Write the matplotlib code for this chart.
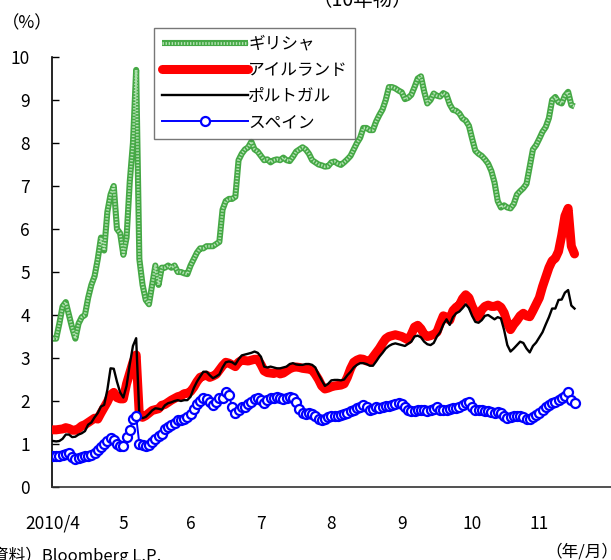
import matplotlib
matplotlib.use("Agg")
import matplotlib.pyplot as plt
from matplotlib.lines import Line2D
import pandas as pd

plt.rcParams['font.family'] = ['Noto Sans CJK JP', 'DejaVu Sans']

# 10年物国債スプレッド（対ドイツ、%）、営業日ベース 2010/4/1〜
dates = pd.bdate_range('2010-04-01', periods=164)

greece = [
    3.45, 3.45, 3.8, 4.2, 4.3, 4.0, 3.7, 3.45, 3.8, 3.95,
    4.0, 4.4, 4.7, 4.9, 5.3, 5.8, 5.5, 6.4, 6.8, 7.0,
    6.0, 5.9, 5.4, 5.8, 7.1, 8.0, 9.7, 5.3, 4.7, 4.35,
    4.25, 4.7, 5.15, 4.7, 5.1, 5.1, 5.15, 5.1, 5.15, 5.0,
    5.0, 4.97, 4.95, 5.15, 5.3, 5.45, 5.55, 5.55, 5.6, 5.6,
    5.6, 5.65, 5.7, 6.45, 6.65, 6.7, 6.7, 6.75, 7.6, 7.75,
    7.85, 7.9, 8.03, 7.85, 7.8, 7.7, 7.6, 7.62, 7.55, 7.6,
    7.62, 7.6, 7.66, 7.6, 7.58, 7.68, 7.8, 7.85, 7.9, 7.85,
    7.75, 7.6, 7.55, 7.5, 7.48, 7.45, 7.46, 7.55, 7.57, 7.52,
    7.49, 7.55, 7.62, 7.7, 7.85, 8.0, 8.12, 8.35, 8.35, 8.3,
    8.3, 8.5, 8.65, 8.78, 9.0, 9.3, 9.3, 9.27, 9.22, 9.18,
    9.02, 9.05, 9.12, 9.3, 9.5, 9.55, 9.2, 8.92, 9.0, 9.15,
    9.1, 9.08, 9.16, 9.12, 8.9, 8.77, 8.75, 8.69, 8.57, 8.52,
    8.4, 8.1, 7.82, 7.75, 7.7, 7.62, 7.52, 7.35, 7.08, 6.65,
    6.5, 6.55, 6.5, 6.48, 6.58, 6.8, 6.88, 6.95, 7.05, 7.45,
    7.85, 7.95, 8.1, 8.26, 8.37, 8.58, 9.0, 9.07, 8.95, 8.92,
    9.1, 9.19, 8.88, 8.85,
]

ireland = [
    1.33, 1.33, 1.34, 1.35, 1.38, 1.36, 1.32, 1.32, 1.36, 1.42,
    1.45, 1.5, 1.55, 1.6, 1.58, 1.72, 1.85, 1.98, 2.14, 2.2,
    2.08, 2.05, 2.05, 2.4, 2.65, 2.9, 3.07, 1.65, 1.62, 1.66,
    1.72, 1.78, 1.8, 1.82, 1.9, 1.92, 1.97, 2.02, 2.06, 2.1,
    2.12, 2.17, 2.18, 2.22, 2.32, 2.45, 2.55, 2.58, 2.6, 2.55,
    2.58, 2.62, 2.72, 2.82, 2.9, 2.88, 2.84, 2.8, 2.9, 2.95,
    2.94, 2.93, 2.95, 2.97, 2.97, 2.85, 2.7, 2.66, 2.65, 2.64,
    2.67, 2.63, 2.65, 2.7, 2.75, 2.78, 2.79, 2.78, 2.76, 2.75,
    2.74, 2.72, 2.62, 2.5, 2.35, 2.28, 2.3, 2.33, 2.35, 2.36,
    2.37, 2.4, 2.55, 2.75, 2.9, 2.95, 2.98, 2.97, 2.93, 2.92,
    3.02, 3.12, 3.22, 3.34, 3.45, 3.5, 3.52, 3.54, 3.52, 3.5,
    3.46, 3.42, 3.55, 3.72, 3.76, 3.68, 3.55, 3.5, 3.52, 3.55,
    3.6, 3.8, 3.98, 3.95, 3.88, 4.1, 4.18, 4.23, 4.38, 4.47,
    4.4, 4.2, 4.05, 3.95, 4.12, 4.2, 4.23, 4.2, 4.2, 4.23,
    4.18, 4.05, 3.82, 3.66, 3.78, 3.87, 3.98, 4.04, 3.98, 3.96,
    4.1, 4.25, 4.4, 4.66, 4.88, 5.1, 5.26, 5.32, 5.48, 5.85,
    6.3, 6.48, 5.6, 5.42,
]

portugal = [
    1.07, 1.06, 1.07, 1.12, 1.22, 1.22, 1.16, 1.17, 1.22, 1.25,
    1.3, 1.45, 1.5, 1.62, 1.72, 1.87, 1.91, 2.26, 2.76, 2.75,
    2.45, 2.2, 2.08, 2.35, 2.85, 3.28, 3.46, 1.65, 1.6, 1.63,
    1.7, 1.78, 1.83, 1.82, 1.8, 1.9, 1.95, 1.97, 2.0, 2.02,
    2.0, 2.02, 2.02, 2.1, 2.3, 2.45, 2.57, 2.68, 2.68, 2.6,
    2.53, 2.57, 2.62, 2.78, 2.9, 2.92, 2.9, 2.85, 2.97, 3.06,
    3.08, 3.1, 3.12, 3.15, 3.12, 3.03, 2.8, 2.78, 2.8, 2.78,
    2.76, 2.76, 2.78, 2.8, 2.86, 2.88, 2.85, 2.84, 2.84, 2.86,
    2.86, 2.84, 2.78, 2.62, 2.48, 2.35, 2.4, 2.48, 2.49, 2.49,
    2.48, 2.5, 2.6, 2.68, 2.78, 2.84, 2.88, 2.88, 2.86, 2.82,
    2.82, 2.92, 3.03, 3.12, 3.22, 3.28, 3.32, 3.34, 3.32, 3.3,
    3.28, 3.33, 3.38, 3.5, 3.52, 3.48, 3.38, 3.32, 3.3, 3.35,
    3.5, 3.6, 3.78, 3.9, 3.77, 3.95, 4.04, 4.08, 4.16, 4.25,
    4.16, 3.98, 3.84, 3.82, 3.88, 3.98, 4.0, 3.95, 3.9, 3.95,
    3.92, 3.65, 3.3, 3.15, 3.22, 3.3, 3.38, 3.35, 3.22, 3.13,
    3.28, 3.36, 3.48, 3.6, 3.78, 3.95, 4.15, 4.15, 4.35, 4.36,
    4.52, 4.58, 4.22, 4.15,
]

spain = [
    0.71, 0.72, 0.71, 0.74, 0.77, 0.78, 0.7, 0.64, 0.68, 0.7,
    0.71, 0.73, 0.75, 0.79, 0.86, 0.92, 1.0, 1.08, 1.13, 1.1,
    1.0, 0.96, 0.95, 1.17, 1.32, 1.58, 1.64, 1.0, 0.97, 0.96,
    0.98, 1.05, 1.12, 1.18, 1.24, 1.35, 1.4, 1.44, 1.5, 1.55,
    1.56, 1.58, 1.62, 1.7, 1.82, 1.92, 2.0, 2.08, 2.05, 1.98,
    1.9, 1.98, 2.06, 2.08, 2.2, 2.14, 1.86, 1.72, 1.8, 1.87,
    1.86, 1.92, 1.98, 2.05, 2.06, 2.02, 1.96, 2.02, 2.08, 2.08,
    2.1, 2.06, 2.05, 2.08, 2.1, 2.06, 1.98, 1.82, 1.72, 1.7,
    1.72, 1.7, 1.65, 1.58, 1.55, 1.58, 1.62, 1.65, 1.64, 1.66,
    1.68, 1.7, 1.72, 1.76, 1.8, 1.84, 1.87, 1.9, 1.85, 1.8,
    1.82, 1.86, 1.84, 1.86, 1.88, 1.88, 1.9, 1.94, 1.96, 1.94,
    1.85, 1.8, 1.76, 1.76, 1.78, 1.8, 1.78, 1.76, 1.78, 1.82,
    1.86, 1.78, 1.79, 1.8, 1.82, 1.83, 1.84, 1.87, 1.9, 1.96,
    1.97, 1.85, 1.8, 1.79, 1.78, 1.77, 1.76, 1.74, 1.72, 1.74,
    1.72, 1.65, 1.6, 1.62, 1.64, 1.66, 1.65, 1.62, 1.58, 1.57,
    1.62, 1.67, 1.72, 1.78, 1.85, 1.9, 1.95, 1.98, 2.02, 2.06,
    2.12, 2.2, 2.02, 1.96,
]

names = ['ギリシャ', 'アイルランド', 'ポルトガル', 'スペイン']
month_labels = ['2010/4', '5', '6', '7', '8', '9', '10', '11']

x = list(range(len(dates)))

fig = plt.figure(figsize=(6.11, 5.6), dpi=100)
ax = fig.add_axes([52 / 611, 73 / 560, 559 / 611, 430 / 560])

# ギリシャ: 緑の網掛け風の太線（濃い緑の上に淡い緑の細かい点）
g_base = dict(color='#45a845', lw=4.4, solid_joinstyle='round', solid_capstyle='butt')
g_dots = dict(color='#b4e2b4', lw=2.0, ls=(0, (0.5, 0.6)), dash_joinstyle='round')
ax.plot(x, greece, zorder=2, **g_base)
ax.plot(x, greece, zorder=2, **g_dots)
ax.plot(x, ireland, color='#ff0000', lw=6.5, solid_capstyle='round',
        solid_joinstyle='round', zorder=3)
ax.plot(x, portugal, color='black', lw=1.7, zorder=4)
ax.plot(x, spain, color='#0000ff', lw=1.4, marker='o', ms=6.5,
        mfc='white', mec='#0000ff', mew=1.6, zorder=5)

ax.set_ylim(0, 10)
ax.set_xlim(-0.3, 174.4)
ax.set_yticks(range(0, 11))

# 月初の営業日に目盛り
first_days = [i for i in range(len(dates))
              if i == 0 or dates[i].month != dates[i - 1].month]
ax.set_xticks(first_days)
ax.set_xticklabels(month_labels)

ax.tick_params(axis='y', direction='in', length=5, width=1, pad=16,
               labelsize=12.5, colors='black')
ax.tick_params(axis='x', length=0, pad=20, labelsize=12.5)

for s in ['top', 'right']:
    ax.spines[s].set_visible(False)
ax.spines['left'].set_linewidth(1.2)
ax.spines['bottom'].set_linewidth(1.2)
ax.spines['bottom'].set_color('#333333')

handles = [
    (Line2D([], [], **g_base), Line2D([], [], **g_dots)),
    Line2D([], [], color='#ff0000', lw=6.5, solid_capstyle='round'),
    Line2D([], [], color='black', lw=1.7),
    Line2D([], [], color='#0000ff', lw=1.4, marker='o', ms=6.5,
           mfc='white', mec='#0000ff', mew=1.6),
]
leg = fig.legend(handles, names, loc='upper left',
                 bbox_to_anchor=(154 / 611, 1 - 28 / 560),
                 frameon=True, fancybox=False, edgecolor='#555555',
                 fontsize=12, handlelength=5.2, handletextpad=0.0,
                 labelspacing=0.55, borderpad=0.45, borderaxespad=0)
leg.get_frame().set_linewidth(1.0)

fig.text(27 / 611, 1 - 23 / 560, '（%）', ha='center', va='center', fontsize=12.5)
fig.text(362 / 611, 1 - 1 / 560, '（10年物）', ha='center', va='center', fontsize=14)
fig.text(-8 / 611, 1 - 556 / 560, '資料）Bloomberg L.P.', ha='left', va='center',
         fontsize=12)
fig.text(545 / 611, 1 - 552 / 560, '（年/月）', ha='left', va='center', fontsize=12)

fig.savefig('out.png', dpi=100)
